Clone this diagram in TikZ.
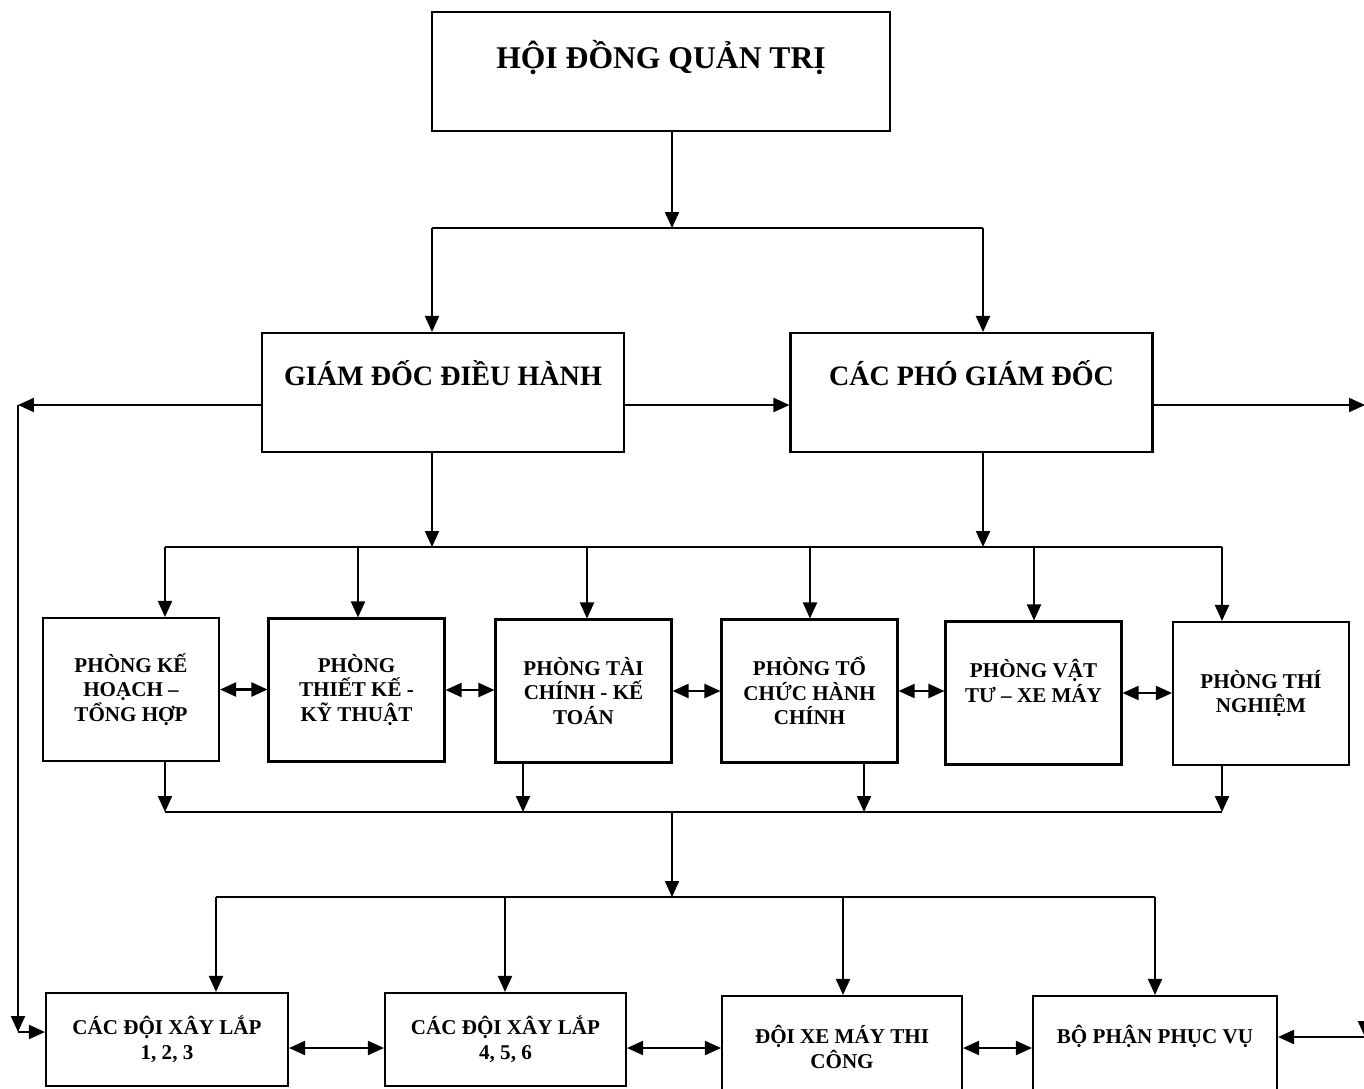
\documentclass[tikz,border=0pt]{standalone}
\usepackage{fontspec}
\setmainfont{Liberation Serif}
\usetikzlibrary{arrows.meta}

\begin{document}
\begin{tikzpicture}[x=0.02cm,y=-0.02cm,line width=1.2pt,
    >={Triangle[length=0.32cm,width=0.28cm]},
    box/.style={draw,rectangle,align=center,font=\bfseries},
    bgd/.style={box,minimum width=7.24cm,minimum height=2.38cm,font=\fontsize{16}{19}\selectfont\bfseries,text height=0.37cm,text depth=0.66cm},
    phong/.style={box,minimum width=3.52cm,minimum height=2.86cm,font=\fontsize{12}{14}\selectfont\bfseries},
    doi/.style={box,minimum height=1.86cm,font=\fontsize{12}{14}\selectfont\bfseries}]
\useasboundingbox (0,0) rectangle (1364,1088);

\node[box,minimum width=9.16cm,minimum height=2.38cm,font=\fontsize{18}{21}\selectfont\bfseries,text height=0.42cm,text depth=0.54cm] (hdqt) at (661,71.5) {HỘI ĐỒNG QUẢN TRỊ};
\node[bgd] (gddh) at (443,392.5) {GIÁM ĐỐC ĐIỀU HÀNH};
\node[bgd] (cpgd) at (971.5,392.5) {CÁC PHÓ GIÁM ĐỐC};

\node[phong] (p1) at (131,689.5) {PHÒNG KẾ\\HOẠCH –\\TỔNG HỢP};
\node[phong] (p2) at (356.5,690) {PHÒNG\\THIẾT KẾ -\\KỸ THUẬT};
\node[phong] (p3) at (583.5,691) {PHÒNG TÀI\\CHÍNH - KẾ\\TOÁN};
\node[phong] (p4) at (809.5,691) {PHÒNG TỔ\\CHỨC HÀNH\\CHÍNH};
\node[phong] (p5) at (1033.5,693) {PHÒNG VẬT\\TƯ – XE MÁY\\~};
\node[phong] (p6) at (1261,693.5) {PHÒNG THÍ\\NGHIỆM};

\node[doi,minimum width=4.84cm] (d1) at (167,1039.5) {CÁC ĐỘI XÂY LẮP\\1, 2, 3};
\node[doi,minimum width=4.82cm] (d2) at (505.5,1039.5) {CÁC ĐỘI XÂY LẮP\\4, 5, 6};
\node[doi,minimum width=4.80cm,minimum height=2.04cm] (d3) at (842,1047) {ĐỘI XE MÁY THI\\CÔNG};
\node[doi,minimum width=4.88cm,minimum height=2.04cm] (d4) at (1155,1047) {BỘ PHẬN PHỤC VỤ\\~};

\coordinate (b1) at (672,228);
\coordinate (b1l) at (432,228);
\coordinate (b1r) at (983,228);
\draw[->] (hdqt.south -| b1) -- (b1);
\draw (b1l) -- (b1r);
\draw[->] (b1l) -- (b1l |- gddh.north);
\draw[->] (b1r) -- (b1r |- cpgd.north);

\coordinate (ngang) at (0,405);
\draw[->] (gddh.east |- ngang) -- (cpgd.west |- ngang);
\coordinate (lc) at (18,405);
\coordinate (ld) at (18,1032);
\draw[->] (gddh.west |- ngang) -- (lc);
\draw[->] (lc) -- (ld);
\draw[->] (ld) -- (d1.west |- ld);
\coordinate (rc) at (1365,405);
\coordinate (rd) at (1365,1037);
\draw[->] (cpgd.east |- ngang) -- (rc);
\draw[->] (rc) -- (rd);
\draw[->] (rd) -- (d4.east |- rd);

\coordinate (m1) at (432,547);
\coordinate (m2) at (983,547);
\draw[->] (gddh.south -| m1) -- (m1);
\draw[->] (cpgd.south -| m2) -- (m2);
\draw (165,547) -- (1222,547);
\foreach \x/\n in {165/p1,358/p2,587/p3,810/p4,1034/p5,1222/p6}
  \draw[->] (\x,547) -- (\x,0 |- \n.north);
\foreach \a/\b in {p1/p2,p2/p3,p3/p4,p4/p5,p5/p6}
  \draw[<->] (\a.east) -- (\a.east -| \b.west);

\foreach \x/\n in {165/p1,523/p3,864/p4,1222/p6}
  \draw[->] (\x,0 |- \n.south) -- (\x,812);
\draw (165,812) -- (1222,812);
\draw[->] (672,812) -- (672,897);
\draw (216,897) -- (1155,897);
\foreach \x/\n in {216/d1,505/d2,843/d3,1155/d4}
  \draw[->] (\x,897) -- (\x,0 |- \n.north);
\coordinate (r3) at (0,1048);
\foreach \a/\b in {d1/d2,d2/d3,d3/d4}
  \draw[<->] (\a.east |- r3) -- (\b.west |- r3);
\end{tikzpicture}
\end{document}
